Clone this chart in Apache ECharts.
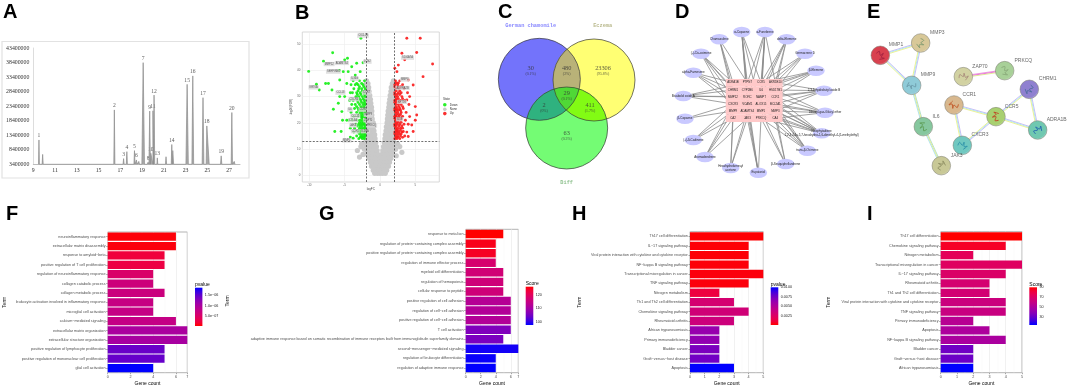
<!DOCTYPE html>
<html><head><meta charset="utf-8">
<style>html,body{margin:0;padding:0;background:#fff}#c{width:1072px;height:387px;filter:blur(0.45px)}</style>
<script src="https://cdn.jsdelivr.net/npm/echarts@6/dist/echarts.min.js"></script>
</head><body><div id="c"></div>
<script>
// ---------- Panel A: chromatogram ----------
const peakTimes  = [9.52,9.86,16.45,17.3,17.6,18.3,18.48,18.7,19.1,19.55,19.7,19.8,20.0,20.1,20.4,21.2,21.73,21.82,23.14,23.66,24.6,24.95,26.27,27.25,27.47];
const peakHeights= [11770000,6800000,22100000,5350000,7750000,8100000,4900000,4400000,38350000,4100000,21700000,7200000,21800000,27200000,5600000,6000000,10200000,8100000,30900000,33800000,26300000,16600000,6300000,21200000,4400000];
const peakLabels = ['1','','2','3','4','5','6','','7','8','9','10','11','12','13','','14','','15','16','17','18','19','20',''];
const peakWidthL = [.04,.05,.05,.05,.05,.05,.05,.06,.12,.08,.06,.16,.05,.05,.04,.05,.05,.08,.11,.08,.08,.06,.06,.06,.07];
const peakWidthR = [.04,.05,.05,.05,.05,.05,.05,.06,.12,.08,.06,.2,.05,.06,.04,.05,.05,.08,.11,.08,.08,.22,.06,.06,.07];
const peakBase = 3400000;
const aYTicks = [3400000,8400000,13400000,18400000,23400000,28400000,33400000,38400000,43400000];
const aXTicks = [9,11,13,15,17,19,21,23,25,27];

// ---------- Panel B: volcano, estimated rows [y, x, x, ...] ----------
const noneRows = [[36,-1.9,1.9],[35,-1.95,-1.7,1.75,1.95],[33.5,-1.95,-1.6,1.6,1.9],[32,-1.9,-1.55,1.55,1.9],[30.5,-1.95,-1.6,-1.45,1.45,1.7,1.95],[29,-1.9,-1.6,-1.35,1.38,1.65,1.9],[27.5,-1.95,-1.6,-1.3,1.3,1.6,1.95],[26,-1.95,-1.55,-1.2,1.25,1.6,1.9],[24.5,-1.9,-1.5,-1.15,1.15,1.5,1.95],[23,-1.95,-1.55,-1.15,1.1,1.5,1.9],[21.5,-1.9,-1.5,-1.1,1.05,1.45,1.95],[20,-1.95,-1.55,-1.15,-.95,1,1.35,1.7,1.95],[18.5,-1.9,-1.5,-1.1,-.9,.9,1.25,1.6,1.9],[17,-1.95,-1.55,-1.2,-.85,.85,1.2,1.55,1.9],[15.5,-1.9,-1.5,-1.1,-.75,.75,1.1,1.5,1.95],[14,-1.95,-1.55,-1.15,-.7,.7,1.15,1.5,1.9],[12.5,-2.1,-1.7,-1.3,-.9,-.6,.6,.9,1.3,1.7,2.05],[11,-2,-1.6,-1.2,-.8,-.5,.5,.8,1.2,1.6,2],[9.5,-1.85,-1.45,-1.05,-.65,-.4,.4,.65,1.05,1.45,1.85],[8,-1.75,-1.35,-.95,-.55,-.3,.3,.55,.95,1.35,1.75],[6.5,-1.55,-1.15,-.75,-.35,0,.35,.75,1.15,1.55],[5,-1.35,-.95,-.55,-.15,.15,.55,.95,1.35],[3.5,-1.2,-.8,-.4,0,.4,.8,1.2],[2,-.95,-.55,-.15,.15,.55,.95],[.8,-.75,-.35,0,.35,.75],[12,-2.6,2.5],[11,-2.7,2.8],[10,-2.2,2.2],[9.5,-3.2],[8.8,3.1],[8,-2.4],[7.5,2.3],[7,-2.9]];
const downRows = [[52.2,-2.7],[46.7,-6.7],[44.6,-4.6],[44,-5],[43.5,-8],[42.9,-2.4],[42.7,-3.3],[41.4,-4],[40,-5.75],[39.6,-10.1],[39.5,-2.8,-4.5,-5.2],[38.2,-3.5],[36.3,-5.7],[35,-4.7,-7.7,-7.3],[34.7,-9],[32.5,-6.8,-8.6],[30,-5.7,-5],[27.5,-5.9],[25.2,-6.6],[24.3,-5.4],[21,-4.7,-5.3],[16.7,-5.5,-6.4],[14.6,-4.2],[14.2,-3.8],
 [36,-2.2,-2.9,-3.8],[34.5,-2.4,-3.1,-3.5,-4.1],[33,-2.1,-2.6,-3,-3.7],[31.5,-2.3,-2.8,-3.3,-3.9,-4.2],[30,-2.1,-2.5,-3,-3.4],[28.5,-2.2,-2.7,-3.2,-3.8,-4.3],[27,-2.1,-2.4,-2.9,-3.5,-4],[25.5,-2.2,-2.6,-3.1,-3.6],[24,-2.1,-2.5,-2.8,-3.3,-4.1],[22.5,-2.2,-2.4,-2.7,-3.1,-3.7],[21,-2.1,-2.5,-2.8,-3.2,-3.9,-4.4],[19.5,-2.2,-2.4,-2.7,-3,-3.4],[18,-2.1,-2.3,-2.6,-2.9,-3.6,-4.2],[16.5,-2.2,-2.5,-2.8,-3.1,-3.7],[15,-2.1,-2.4,-2.7,-3.3],[14,-2.2,-2.5,-3],
 [35,-2.6,-3.3],[33.8,-2.3,-2.9],[32.2,-2.5,-3.1],[30.8,-2.2,-2.7,-3.2],[29.2,-2.4,-2.9],[27.8,-2.2,-2.6,-3.1],[26.2,-2.3,-2.7,-3.3],[24.8,-2.1,-2.4,-2.7,-3],[23.2,-2.3,-2.6,-2.9],[22,-2.1,-2.5,-2.6],[20.2,-2.3,-2.6,-2.9],[18.8,-2.1,-2.5,-2.8,-3.2],[17.2,-2.3,-2.6,-3],[15.8,-2.1,-2.3,-2.6,-2.9],[14.5,-2.3,-2.6,-2.8]];
const upRows = [[52.2,3.8,5.7],[46.8,5.2],[46.5,3.1],[44,3.5],[42.4,7.45],[42,2.6],[40.8,2.1],[39.5,2.4],[37.6,6.1],[36.3,4],[34.4,4.7],[30,4.2],[28.7,3.8],[26.2,5],[23,5.2],[22.4,4.2],[21,5],[19.2,4.5],[16.7,4.7,3.3],[14.8,4],
 [36,2.2,2.8],[34.5,2.1,2.5,3.2],[33,2.3,2.7,3.4],[31.5,2.1,2.6,3,3.9],[30,2.2,2.5,3.1],[28.5,2.1,2.4,2.9,3.5],[27,2.2,2.6,3,4.1],[25.5,2.1,2.4,2.8,3.3],[24,2.2,2.5,3,3.7],[22.5,2.1,2.3,2.7,3.2],[21,2.2,2.5,2.9,3.6],[19.5,2.1,2.4,2.8,3.4,4],[18,2.2,2.5,2.9,3.2],[16.5,2.1,2.4,2.7,3.1,3.8],[15,2.2,2.5,2.9,3.5],[14,2.1,2.4,2.8],
 [35.2,2.3,2.6],[33.8,2.1,2.5,2.9],[32.2,2.3,2.8],[30.8,2.1,2.4,2.8],[29.2,2.3,2.6,3.2],[27.8,2.1,2.4,2.7],[26.2,2.3,2.7,3.2],[24.8,2.1,2.3,2.6,2.9],[23.2,2.3,2.6,2.9],[21.8,2.1,2.4,2.7,3],[20.2,2.3,2.6,3],[18.8,2.1,2.3,2.7,3.1],[17.2,2.3,2.5,2.9],[15.8,2.1,2.4,2.7,3],[14.5,2.3,2.6,3.2]];
const tagX = [-2.4,-1.8,3.9,-7.2,-5.4,-6.6,-9.4,-5.6,3.5,3.2,-3.6,-1.9,-3.7,-4.25,-2.4,-1.65,-3.5,3.1,2.8,-3.8,-1.65,-3.8,-1.2,-3.5,-2.1,-4.7];
const tagY = [53.2,43.3,44.8,42.4,42.8,39.5,33.5,31.5,36.5,33.3,36.8,31.5,29,25,25,23.1,22.7,28,21.4,21,21,19,19,16.8,16.8,13.3];
const tagNames = ['CXCL13','LCN2','S100A7A','MMP12','ADAMTS4','SERPINB4','KRT6A','CCL18','MMP3','ADORA2B','IL36G','CCR7','CXCR3','IL6','CCR5','MMP9','CCL22','KRT16','IL1B','CTLA4','ZAP70','JAK3','PRKCQ','CCR1','IL2RA','MMP1'];
const bXTicks = [-10,-5,0,5];
const bYTicks = [0,10,20,30,40,50];
const bFcCut = [-2,2];
const bSigCut = 13;

// ---------- Panel C: venn ----------
const vennNames = ['German chamomile','Eczema','Diff'];
const vennNameColors = ['#6a6aff','#a8a870','#70b070'];
const vennNameX = [182,398,290];
const vennNameY = [77,77,547];
const vennCx = [208,372,290];
const vennCy = [238,240,384];
const vennR = 123;
const vennRegions = [[0],[1],[2],[0,1],[0,2],[1,2],[0,1,2]];
const vennFill = ['#7373fb','#ffff73','#74fc74','#b9b278','#2fb27f','#82fb14','#50d836'];
const vennCounts = ['30','23306','63','480','2','411','29'];
const vennPct = ['(0.1%)','(95.8%)','(0.3%)','(2%)','(0%)','(1.7%)','(0.1%)'];
const vennLabelX = [182,399,290,290,222,360,290];
const vennLabelY = [214,214,409,214,325,325,287];

// ---------- Panel D: compound-target network ----------
const targetNames = ['ADRA1B','PTPN7','CCR5','AKR1B10','CHRM1','CYP2B6','IL6','HSD17B1','MMP12','RORC','NAMPT','CCR1','CXCR3','VCAM1','ALOX15','BCL2A1','MMP9','ADAMTS4','MMP1','MMP3','CA2','JAK3','PRKCQ','CA4'];
const targetX = [279,322,363,406,279,322,363,406,279,322,363,406,279,322,363,406,279,322,363,406,279,322,363,406];
const targetY = [248,248,248,248,270,270,270,270,291,291,291,291,312,312,312,312,333,333,333,333,355,355,355,355];
const compoundNames = ['α-Copaene','α-Funebrene','delta-Elemene','Germacrene D','β-Elemene','2,3-Dihydrobutyl oxide B','Dihexyl-gas-Glucyl ether','Neophytadiene\n1,2,3,4,4a,5,7-hexahydro-1,6-dimethyl-4-(1-methylethyl)','trans-β-Ocimene','β-Sesquiphellandrene','Eupatoriol','Hexahydrofarnesyl\nacetone','Aromadendrene','(+)-δ-Cadinene','β-Copaene','Bisabolol oxide A','alpha-Farnesene','(-)-Cis-ocimene','Chamazulene'];
const compoundX = [305,375,440,495,528,552,555,545,502,437,355,272,195,160,135,130,160,183,238];
const compoundY = [96,96,118,161,212,272,338,400,452,492,518,504,471,420,356,288,218,161,118];
const compoundTargets = [[1,5,9,13,2,18],[1,2,3,6,10,13,14],[2,3,6,7,10],[3,7,6,2],[3,7,11,2,6],[3,7,11,15,10,19],[7,11,15,19,14,23],[11,15,19,23,14,18,10,22],[15,19,23,18,22,6],[19,22,23,18],[21,22,17,13,9],[20,21,17,16],[20,16,12,21],[16,20,12],[16,12],[4,8,12,1,11],[8,4,12,0],[0,4,8,16,13],[0,1,4,8]];

// ---------- Panel E: protein interaction network ----------
const proteinNames = ['MMP1','MMP3','MMP9','IL6','JAK3','ZAP70','PRKCQ','CHRM1','CCR1','CCR5','ADRA1B','CXCR3'];
const proteinX = [61,182,155,190,244,310,434,508,282,408,533,307];
const proteinY = [166,129,256,380,497,230,212,268,315,350,390,436];
const proteinLabelX = [108,232,204,228,290,360,490,563,328,455,590,360];
const proteinLabelY = [135,99,225,349,468,200,182,237,285,320,358,405];
const proteinColors = ['#d8414f','#d8c898','#8fcbd8','#86c79e','#c8c896','#d2d2a2','#a8d098','#8f80d0','#d8b88e','#a8d070','#70c8b0','#70c8c0'];
const ribbonColors = ['#a02040','#7f9a70','#6a98a8','#5a9a50','#8a8a60','#a88a7a','#88a878','#4a6a9a','#c05020','#c04020','#2060b0','#2a90a8'];
const proteinEdges = [[0,1],[0,2],[1,2],[2,3],[3,4],[5,6],[8,9],[8,11],[9,11],[9,7],[9,10],[7,10]];

// ---------- Panels F-I: enrichment bars ----------
const fTerms = ['neuroinflammatory response','extracellular matrix disassembly','response to amyloid−beta','positive regulation of T cell proliferation','regulation of neuroinflammatory response','collagen catabolic process','collagen metabolic process','leukocyte activation involved in inflammatory response','microglial cell activation','calcium−mediated signaling','extracellular matrix organization','extracellular structure organization','positive regulation of lymphocyte proliferation','positive regulation of mononuclear cell proliferation','glial cell activation'];
const fCounts = [6,6,5,5,4,4,5,4,4,6,7,7,5,5,4];
const fValues = [3e-8,4e-8,2e-7,2.5e-7,5e-7,6.5e-7,6.8e-7,7.2e-7,7.4e-7,7.5e-7,1.0e-6,1.02e-6,1.45e-6,1.47e-6,1.87e-6];
const fTickValues = [5e-7,1e-6,1.5e-6];
const fTickLabels = ['5.0e−07','1.0e−06','1.5e−06'];

const gTerms = ['response to metal ion','regulation of protein−containing complex assembly','positive regulation of protein−containing complex assembly','regulation of immune effector process','myeloid cell differentiation','regulation of hemopoiesis','cellular response to peptide','positive regulation of cell adhesion','regulation of cell−cell adhesion','positive regulation of cell−cell adhesion','T cell activation','adaptive immune response based on somatic recombination of immune receptors built from immunoglobulin superfamily domains','second−messenger−mediated signaling','regulation of leukocyte differentiation','regulation of adaptive immune response'];
const gCounts = [5,4,4,4,5,5,5,6,6,6,6,5,7,4,4];
const gValues = [126.3,125,124.5,118,117,116.5,116.5,112.5,112,112,106,105.5,98.5,98,97.5];
const gTickValues = [100,110,120];
const gTickLabels = ['100','110','120'];

const hTerms = ['Th17 cell differentiation','IL−17 signaling pathway','Viral protein interaction with cytokine and cytokine receptor','NF−kappa B signaling pathway','Transcriptional misregulation in cancer','TNF signaling pathway','Nitrogen metabolism','Th1 and Th2 cell differentiation','Chemokine signaling pathway','Rheumatoid arthritis','African trypanosomiasis','Primary immunodeficiency','Bladder cancer','Graft−versus−host disease','Apoptosis'];
const hCounts = [5,4,4,4,5,4,2,3,4,3,2,2,2,2,3];
const hValues = [.00005,.0001,.00012,.00015,.0002,.0002,.0012,.003,.0033,.0035,.0062,.0064,.0072,.0075,.01];
const hTickValues = [.0025,.005,.0075,.01];
const hTickLabels = ['0.0025','0.0050','0.0075','0.0100'];

const iTerms = ['Th17 cell differentiation','Chemokine signaling pathway','Nitrogen metabolism','Transcriptional misregulation in cancer','IL−17 signaling pathway','Rheumatoid arthritis','Th1 and Th2 cell differentiation','Viral protein interaction with cytokine and cytokine receptor','TNF signaling pathway','Primary immunodeficiency','Apoptosis','NF−kappa B signaling pathway','Bladder cancer','Graft−versus−host disease','African trypanosomiasis'];
const iCounts = [5,4,2,5,4,3,3,4,4,2,3,4,2,2,2];
const iValues = [90,85,74.6,72,70,67,66,62,61,54,50,49,32,31,13];
const iTickValues = [30,50,70,90];
const iTickLabels = ['30','50','70','90'];

const labRedToBlue = ['#ff0000','#f1003a','#e40058','#d40070','#c40085','#b10098','#9c00aa','#8200bb','#6100cc','#3600e6','#0000ff'];

// ---------- helpers ----------
const rowsToPoints = rows => rows.flatMap(r => r.slice(1).map(x => [x, r[0]]));
const SANS = '"Liberation Sans", Arial, sans-serif';
const SERIF = '"Liberation Serif", serif';
const MONO = '"Liberation Mono", monospace';
const titles = [], grids = [], xAxes = [], yAxes = [], series = [], visualMaps = [];
function T(text, left, top, size, color, weight, family) {
  titles.push({text, left, top, padding: 0, itemGap: 0, textStyle: {fontSize: size, color: color || '#000', fontWeight: weight || 'normal', fontFamily: family || SANS, lineHeight: size * 1.1}});
}
function addGrid(left, top, width, height, extra) { grids.push(Object.assign({left, top, width, height, containLabel: false}, extra || {})); return grids.length - 1; }
function hiddenAxis(max, inverse) { return {type: 'value', show: false, min: 0, max, inverse: !!inverse}; }

// panel letters
[['A',3,1],['B',295,2],['C',498,1],['D',675,1],['E',867,1],['F',6,203],['G',319,203],['H',572,203],['I',867,203]].forEach(l => T(l[0], l[1], l[2], 20, '#000', 'bold'));

// ---------- A ----------
const gA = addGrid(33.3, 48, 206.7, 116.3);
xAxes.push({gridIndex: gA, type: 'value', min: 9, max: 28, axisLine: {show: true, lineStyle: {color: '#bdbdbd', width: 1}}, axisTick: {show: false, customValues: aXTicks}, axisLabel: {customValues: aXTicks, fontSize: 5.8, fontFamily: SERIF, color: '#333', margin: 3}, splitLine: {show: false}});
yAxes.push({gridIndex: gA, type: 'value', min: 3400000, max: 43400000, axisLine: {show: true, lineStyle: {color: '#dddddd'}}, axisTick: {show: false, customValues: aYTicks}, axisLabel: {customValues: aYTicks, fontSize: 5.8, fontFamily: SERIF, color: '#333', margin: 4, formatter: v => String(Math.round(v))}, splitLine: {show: false}});
const peakLine = peakTimes.flatMap((t, i) => [[t - peakWidthL[i], peakBase], [t, peakHeights[i]], [t + peakWidthR[i], peakBase]]);
series.push({type: 'line', xAxisIndex: gA, yAxisIndex: gA, data: peakLine, symbol: 'none', silent: true, lineStyle: {color: '#8c8c8c', width: .7}, areaStyle: {color: '#a8a8a8', opacity: 1, origin: 'start'}});
series.push({type: 'scatter', xAxisIndex: gA, yAxisIndex: gA, symbolSize: 0, silent: true, data: peakTimes.map((t, i) => [t, peakHeights[i]]), label: {show: true, position: 'top', distance: 1, fontSize: 5.6, fontFamily: SERIF, color: '#333', formatter: p => peakLabels[p.dataIndex]}});

// ---------- B ----------
const gB = addGrid(302.3, 32, 137, 150, {show: true, borderColor: '#cfcfcf', borderWidth: .8, backgroundColor: '#fff'});
const axisB = {axisLine: {show: false}, axisLabel: {fontSize: 3, color: '#666', margin: 2}, splitLine: {show: true, lineStyle: {color: '#ededed', width: .6}}};
xAxes.push(Object.assign({gridIndex: gB, type: 'value', min: -11, max: 8.4, name: 'logFC', nameLocation: 'middle', nameGap: 5, nameTextStyle: {fontSize: 3, color: '#444'}, axisTick: {show: false, customValues: bXTicks}}, axisB, {axisLabel: Object.assign({customValues: bXTicks}, axisB.axisLabel)}));
yAxes.push(Object.assign({gridIndex: gB, type: 'value', min: -2.5, max: 54.6, name: '-log10(FDR)', nameLocation: 'middle', nameGap: 4, nameTextStyle: {fontSize: 3, color: '#444'}, axisTick: {show: false, customValues: bYTicks}}, axisB, {axisLabel: Object.assign({customValues: bYTicks}, axisB.axisLabel)}));
series.push({name: 'None', type: 'scatter', xAxisIndex: gB, yAxisIndex: gB, data: rowsToPoints(noneRows), symbolSize: 5.2, silent: true, itemStyle: {color: '#c9c9c9', opacity: 1}});
series.push({name: 'Down', type: 'scatter', xAxisIndex: gB, yAxisIndex: gB, data: rowsToPoints(downRows), symbolSize: 2.9, silent: true, itemStyle: {color: '#12ee12', opacity: .9}});
series.push({name: 'Up', type: 'scatter', xAxisIndex: gB, yAxisIndex: gB, data: rowsToPoints(upRows), symbolSize: 2.9, silent: true, itemStyle: {color: '#fa1a1a', opacity: .9},
  markLine: {silent: true, symbol: 'none', label: {show: false}, animation: false, lineStyle: {color: '#333', type: [2, 1.5], width: .7},
    data: [{xAxis: bFcCut[0]}, {xAxis: bFcCut[1]}, {yAxis: bSigCut}]}});
series.push({type: 'scatter', xAxisIndex: gB, yAxisIndex: gB, symbolSize: 0, silent: true, data: tagX.map((x, i) => [x, tagY[i]]),
  label: {show: true, position: 'inside', fontSize: 2.6, color: '#333', backgroundColor: '#d8d8d8', padding: [.6, 1], formatter: p => tagNames[p.dataIndex]}});
T('State', 443, 98, 3, '#333');

// ---------- C ----------
const gC = addGrid(470, 0, 170, 195);
xAxes.push(Object.assign(hiddenAxis(510), {gridIndex: gC}));
yAxes.push(Object.assign(hiddenAxis(585, true), {gridIndex: gC}));
const inCircle = (x, y, k) => Math.hypot(x - vennCx[k], y - vennCy[k]) <= vennR + .01;
function regionPoints(members) {
  const pts = [];
  members.forEach(m => { for (let a = 0; a < 360; a += 2) {
    const x = vennCx[m] + vennR * Math.cos(a * Math.PI / 180), y = vennCy[m] + vennR * Math.sin(a * Math.PI / 180);
    if (members.every(k => k === m || inCircle(x, y, k))) pts.push([x, y]);
  }});
  const cx = pts.reduce((s, p) => s + p[0], 0) / pts.length, cy = pts.reduce((s, p) => s + p[1], 0) / pts.length;
  return pts.sort((p, q) => Math.atan2(p[1] - cy, p[0] - cx) - Math.atan2(q[1] - cy, q[0] - cx));
}
series.push({type: 'custom', coordinateSystem: 'cartesian2d', xAxisIndex: gC, yAxisIndex: gC, silent: true, clip: false,
  data: vennRegions.map((r, i) => [i, i]),
  renderItem: (params, api) => ({type: 'polygon', shape: {points: regionPoints(vennRegions[api.value(0)]).map(p => api.coord(p))}, style: {fill: vennFill[api.value(0)], stroke: null}})});
series.push({type: 'custom', coordinateSystem: 'cartesian2d', xAxisIndex: gC, yAxisIndex: gC, silent: true, clip: false,
  data: vennCx.map((x, i) => [x, vennCy[i]]),
  renderItem: (params, api) => { const c = api.coord([api.value(0), api.value(1)]); return {type: 'circle', shape: {cx: c[0], cy: c[1], r: api.size([vennR, 0])[0]}, style: {fill: 'none', stroke: '#3a3a3a', lineWidth: .7}}; }});
series.push({type: 'scatter', xAxisIndex: gC, yAxisIndex: gC, symbolSize: 0, silent: true, data: vennLabelX.map((x, i) => [x, vennLabelY[i]]),
  label: {show: true, position: 'inside', formatter: p => '{a|' + vennCounts[p.dataIndex] + '}\n{b|' + vennPct[p.dataIndex] + '}', rich: {a: {fontSize: 6.3, fontFamily: SERIF, color: '#333', lineHeight: 6}, b: {fontSize: 3.8, fontFamily: SERIF, color: '#333', lineHeight: 5}}}});
series.push({type: 'scatter', xAxisIndex: gC, yAxisIndex: gC, symbolSize: 0, silent: true,
  data: vennNameX.map((x, i) => ({value: [x, vennNameY[i]], label: {color: vennNameColors[i]}})),
  label: {show: true, position: 'inside', fontSize: 5.3, fontWeight: 'bold', fontFamily: MONO, formatter: p => vennNames[p.dataIndex]}});

// ---------- D ----------
const gD = addGrid(640, 0, 220, 195);
xAxes.push(Object.assign(hiddenAxis(660), {gridIndex: gD}));
yAxes.push(Object.assign(hiddenAxis(585, true), {gridIndex: gD}));
const dNodes = targetNames.map((n, i) => ({name: n, value: [targetX[i], targetY[i]], symbol: 'rect', symbolSize: [14.5, 7.4], itemStyle: {color: '#ffc9c9'}, label: {show: true, position: 'inside', fontSize: 2.9, color: '#222'}}))
  .concat(compoundNames.map((n, i) => ({name: n, value: [compoundX[i], compoundY[i]], symbol: 'circle', symbolSize: [17.5, 10.5], itemStyle: {color: '#c9c9ff'}, label: {show: true, position: 'inside', fontSize: 3, color: '#222', lineHeight: 4.3}})));
const dLinks = compoundTargets.flatMap((ts, i) => ts.map(t => ({source: targetNames.length + i, target: t})));
series.push({type: 'graph', coordinateSystem: 'cartesian2d', xAxisIndex: gD, yAxisIndex: gD, silent: true, layout: 'none', roam: false, data: dNodes, links: dLinks, edgeSymbol: ['none', 'none'], lineStyle: {color: '#8a8a8a', width: .8, opacity: 1, curveness: 0}});

// ---------- E ----------
const gE = addGrid(860, 0, 212, 195);
xAxes.push(Object.assign(hiddenAxis(636), {gridIndex: gE}));
yAxes.push(Object.assign(hiddenAxis(585, true), {gridIndex: gE}));
series.push({type: 'custom', coordinateSystem: 'cartesian2d', xAxisIndex: gE, yAxisIndex: gE, silent: true, clip: false,
  data: proteinEdges.map((e, i) => [i, i]),
  renderItem: (params, api) => {
    const i = api.value(0), e = proteinEdges[i];
    const a = api.coord([proteinX[e[0]], proteinY[e[0]]]), b = api.coord([proteinX[e[1]], proteinY[e[1]]]);
    const L = Math.hypot(b[0] - a[0], b[1] - a[1]), nx = -(b[1] - a[1]) / L, ny = (b[0] - a[0]) / L;
    const stripes = i === 5 ? ['#e890d8', '#e860d8', '#dcec8c'] : (i === 3 || i === 4) ? ['#a8dcc8', '#e8ec80', '#a8e0e8'] : ['#c4b4f4', '#a8e4f4', '#ecf08c'];
    return {type: 'group', children: stripes.map((c, k) => ({type: 'line', shape: {x1: a[0] + nx * (k - 1) * .85, y1: a[1] + ny * (k - 1) * .85, x2: b[0] + nx * (k - 1) * .85, y2: b[1] + ny * (k - 1) * .85}, style: {stroke: c, lineWidth: .9}}))};
  }});
series.push({type: 'scatter', xAxisIndex: gE, yAxisIndex: gE, silent: true, symbolSize: 18.6,
  data: proteinX.map((x, i) => ({value: [x, proteinY[i]], itemStyle: {borderColor: '#77776a', borderWidth: .5, opacity: 1, color: new echarts.graphic.RadialGradient(.45, .42, .68, [{offset: 0, color: proteinColors[i]}, {offset: .72, color: proteinColors[i]}, {offset: .9, color: echarts.color.lift(proteinColors[i], .45)}, {offset: 1, color: echarts.color.lift(proteinColors[i], -.25)}])}}))});
series.push({type: 'custom', coordinateSystem: 'cartesian2d', xAxisIndex: gE, yAxisIndex: gE, silent: true, clip: false, z: 4,
  data: proteinX.map((x, i) => [x, proteinY[i]]),
  renderItem: (params, api) => {
    const c = api.coord([api.value(0), api.value(1)]), rot = params.dataIndex * 1.1;
    const zig = [[-4,-2],[-1,-4],[0,0],[3,-2],[1,2],[4,3],[-1,4]];
    const pts = zig.map(p => [c[0] + p[0] * Math.cos(rot) - p[1] * Math.sin(rot), c[1] + p[0] * Math.sin(rot) + p[1] * Math.cos(rot)]);
    return {type: 'polyline', shape: {points: pts, smooth: .3}, style: {fill: 'none', stroke: ribbonColors[params.dataIndex], lineWidth: .9}};
  }});
series.push({type: 'scatter', xAxisIndex: gE, yAxisIndex: gE, silent: true, symbolSize: 0, z: 5, data: proteinLabelX.map((x, i) => [x, proteinLabelY[i]]),
  label: {show: true, position: 'inside', fontSize: 5, color: '#444', formatter: p => proteinNames[p.dataIndex]}});

// ---------- F-I ----------
function barPanel(o) {
  const g = addGrid(o.left, o.top, o.width, o.height, {show: true, borderColor: '#b3b3b3', borderWidth: 1, backgroundColor: '#fff'});
  xAxes.push({gridIndex: g, type: 'value', min: 0, max: o.xMax, interval: o.xStep, name: 'Gene count', nameLocation: 'middle', nameGap: 8.3, nameTextStyle: {fontSize: 5, color: '#000', fontFamily: SANS},
    axisLine: {show: false}, axisTick: {show: true, length: 1.5, lineStyle: {color: '#555', width: .5}}, axisLabel: {fontSize: 3.7, color: '#4d4d4d', margin: 2.2, fontFamily: SANS},
    splitLine: {show: true, lineStyle: {color: '#ebebeb', width: .7}}, minorTick: {show: false, splitNumber: 2}, minorSplitLine: {show: true, lineStyle: {color: '#f3f3f3', width: .4}}});
  yAxes.push({gridIndex: g, type: 'category', inverse: true, data: o.terms, name: 'Term', nameLocation: 'middle', nameGap: o.termGap, nameRotate: 90, nameTextStyle: {fontSize: 5, color: '#222', fontFamily: SANS},
    axisLine: {show: false}, axisTick: {show: true, alignWithLabel: true, length: 1.5, lineStyle: {color: '#555', width: .5}}, axisLabel: {interval: 0, fontSize: 3.72, color: '#4d4d4d', margin: 2.2, fontFamily: SANS}, splitLine: {show: false}});
  const si = series.length;
  series.push({type: 'bar', xAxisIndex: g, yAxisIndex: g, silent: true, barWidth: '88%', encode: {x: 0, y: 1}, data: o.terms.map((t, i) => [o.counts[i], t, o.values[i]])});
  const pal = o.lowIsRed ? labRedToBlue : labRedToBlue.slice().reverse();
  visualMaps.push({type: 'continuous', show: false, seriesIndex: si, dimension: 2, min: o.legendMin, max: o.legendMax, inRange: {color: pal}});
  // legend colour bar with its own value axis
  const lg = addGrid(o.legLeft, o.legTop, o.legW, o.legH);
  xAxes.push({gridIndex: lg, type: 'category', show: false, data: ['legend']});
  yAxes.push({gridIndex: lg, type: 'value', position: 'right', min: o.legendMin, max: o.legendMax, axisLine: {show: false}, axisTick: {show: false, customValues: o.tickValues}, splitLine: {show: false},
    axisLabel: {customValues: o.tickValues, fontSize: 3.7, color: '#222', margin: 2.4, fontFamily: SANS, formatter: v => { let b = 0; o.tickValues.forEach((t, i) => { if (Math.abs(t - v) < Math.abs(o.tickValues[b] - v)) b = i; }); return o.tickLabels[b]; }}});
  const stops = labRedToBlue.map((c, i) => ({offset: o.lowIsRed ? 1 - i / (labRedToBlue.length - 1) : i / (labRedToBlue.length - 1), color: c}));
  stops.sort((a, b) => a.offset - b.offset);
  series.push({type: 'bar', xAxisIndex: lg, yAxisIndex: lg, silent: true, barWidth: '100%', data: [o.legendMax], itemStyle: {color: new echarts.graphic.LinearGradient(0, 0, 0, 1, stops)}});
  T(o.legTitle, o.legLeft, o.legTop - 5.8, 5, '#000');
}
barPanel({terms: fTerms, counts: fCounts, values: fValues, left: 107.7, top: 232, width: 79.6, height: 143, xMax: 7, xStep: 2, termGap: 100.5, lowIsRed: true, legendMin: 0, legendMax: 1.87e-6, tickValues: fTickValues, tickLabels: fTickLabels, legLeft: 195, legTop: 287.7, legW: 7.4, legH: 38.3, legTitle: 'pvalue'});
barPanel({terms: gTerms, counts: gCounts, values: gValues, left: 465.7, top: 229.3, width: 52.6, height: 145.7, xMax: 7, xStep: 2, termGap: 236, lowIsRed: false, legendMin: 97.5, legendMax: 126.3, tickValues: gTickValues, tickLabels: gTickLabels, legLeft: 525.7, legTop: 286.7, legW: 7.6, legH: 38.3, legTitle: 'Score'});
barPanel({terms: hTerms, counts: hCounts, values: hValues, left: 690, top: 231.7, width: 73.3, height: 142.3, xMax: 5, xStep: 1, termGap: 108, lowIsRed: true, legendMin: 0, legendMax: .01, tickValues: hTickValues, tickLabels: hTickLabels, legLeft: 770.7, legTop: 287.3, legW: 7.6, legH: 37.7, legTitle: 'pvalue'});
barPanel({terms: iTerms, counts: iCounts, values: iValues, left: 940.7, top: 231.7, width: 81.3, height: 142.3, xMax: 5, xStep: 1, termGap: 110, lowIsRed: false, legendMin: 13, legendMax: 90, tickValues: iTickValues, tickLabels: iTickLabels, legLeft: 1029.3, legTop: 287.3, legW: 7.7, legH: 37.7, legTitle: 'Score'});

const chart = echarts.init(document.getElementById('c'), null, {renderer: 'canvas'});
chart.setOption({
  animation: false, backgroundColor: '#fff',
  title: titles, grid: grids, xAxis: xAxes, yAxis: yAxes, series, visualMap: visualMaps,
  legend: {data: ['Down', 'None', 'Up'], orient: 'vertical', left: 443, top: 103, itemWidth: 4, itemHeight: 3.6, itemGap: .8, selectedMode: false, padding: 0, textStyle: {fontSize: 3, color: '#333', padding: [0, 0, 0, -2]}},
  graphic: [{type: 'rect', z: -1, silent: true, shape: {x: 2, y: 41.5, width: 247, height: 136.5}, style: {fill: '#fff', stroke: '#e2e2e2', lineWidth: 1.2}}]
});
</script></body></html>
